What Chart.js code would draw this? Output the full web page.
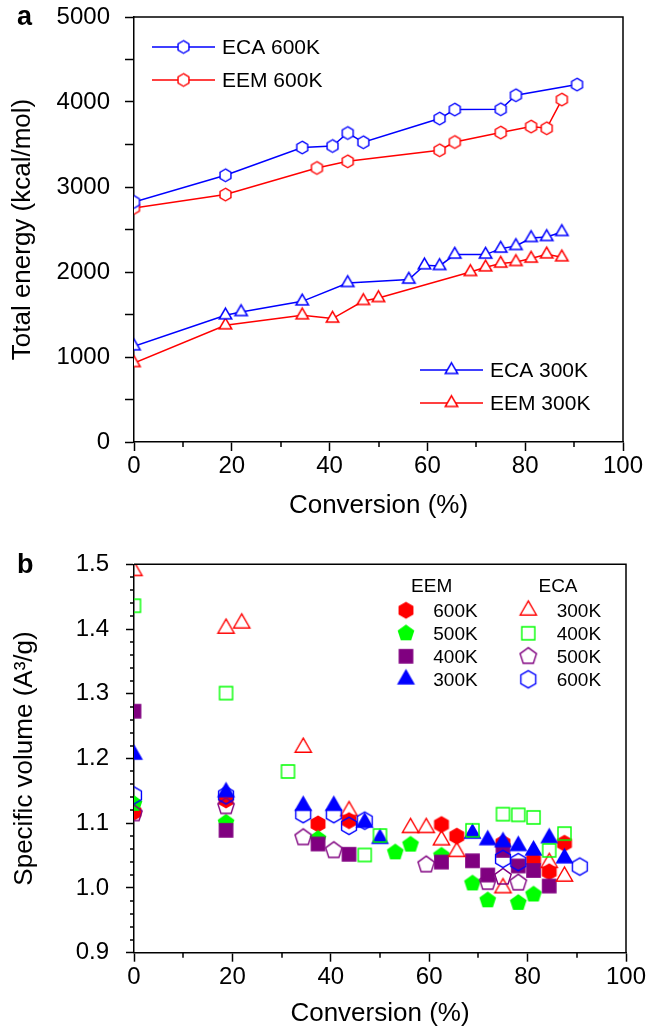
<!DOCTYPE html>
<html>
<head>
<meta charset="utf-8">
<script src="https://cdn.jsdelivr.net/npm/chart.js@4.4.0/dist/chart.umd.min.js"></script>
<style>
  html, body { margin: 0; padding: 0; background: #fff; width: 649px; height: 1027px; overflow: hidden; }
  #wrapA { position: absolute; left: 0; top: 0; width: 649px; height: 520px; }
  #wrapB { position: absolute; left: 0; top: 510px; width: 649px; height: 517px; }
</style>
</head>
<body>
<div id="wrapA"><canvas id="chartA" width="649" height="520"></canvas></div>
<div id="wrapB"><canvas id="chartB" width="649" height="517"></canvas></div>
<script>
// ---------- Panel a: total energy (kcal/mol) vs conversion (%) ----------
const eca600Conv   = [0, 18.7, 34.4, 40.6, 43.7, 46.9, 62.5, 65.6, 75.0, 78.1, 90.6];
const eca600Energy = [2824, 3138, 3464, 3482, 3635, 3526, 3805, 3911, 3914, 4079, 4205];
const eem600Conv   = [0, 18.7, 37.4, 43.7, 62.5, 65.6, 75.0, 81.2, 84.4, 87.5];
const eem600Energy = [2753, 2911, 3224, 3302, 3432, 3529, 3640, 3711, 3691, 4028];
const eca300Conv   = [0, 18.7, 21.9, 34.4, 43.7, 56.2, 59.4, 62.5, 65.6, 71.9, 75.0, 78.1, 81.2, 84.4, 87.5];
const eca300Energy = [1126, 1491, 1529, 1655, 1871, 1911, 2079, 2071, 2205, 2205, 2275, 2306, 2400, 2412, 2471];
const eem300Conv   = [0, 18.7, 34.4, 40.6, 46.9, 50.0, 68.8, 71.9, 75.0, 78.1, 81.2, 84.4, 87.5];
const eem300Energy = [929, 1373, 1491, 1452, 1659, 1694, 2000, 2055, 2099, 2118, 2158, 2208, 2173];

// ---------- Panel b: specific volume (A^3/g) vs conversion (%) ----------
const eemVol600Conv = [0, 18.7, 37.4, 43.7, 62.5, 65.6, 75.0, 81.2, 84.4, 87.5];
const eemVol600     = [1.117, 1.136, 1.099, 1.104, 1.098, 1.080, 1.069, 1.043, 1.025, 1.069];
const eemVol500Conv = [0, 18.7, 37.4, 53.1, 56.2, 62.5, 68.8, 71.9, 78.1, 81.2];
const eemVol500     = [1.130, 1.101, 1.076, 1.055, 1.067, 1.050, 1.007, 0.981, 0.977, 0.990];
const eemVol400Conv = [0, 18.7, 37.4, 43.7, 62.5, 68.8, 71.9, 75.0, 78.1, 81.2, 84.4];
const eemVol400     = [1.273, 1.089, 1.068, 1.052, 1.040, 1.042, 1.020, 1.058, 1.034, 1.027, 1.003];
const eemVol300Conv = [0, 18.7, 34.4, 40.6, 46.9, 50.0, 68.8, 71.9, 75.0, 78.1, 81.2, 84.4, 87.5];
const eemVol300     = [1.206, 1.148, 1.127, 1.127, 1.101, 1.076, 1.084, 1.074, 1.071, 1.065, 1.058, 1.077, 1.046];
const ecaVol300Conv = [0, 18.7, 21.9, 34.4, 43.7, 56.2, 59.4, 62.5, 65.6, 75.0, 84.4, 87.5];
const ecaVol300     = [1.490, 1.401, 1.409, 1.217, 1.119, 1.093, 1.093, 1.074, 1.056, 1.000, 1.039, 1.018];
const ecaVol400Conv = [0, 18.7, 31.3, 46.9, 50.0, 68.8, 75.0, 78.1, 81.2, 84.4, 87.5];
const ecaVol400     = [1.436, 1.301, 1.180, 1.051, 1.081, 1.089, 1.114, 1.113, 1.109, 1.058, 1.084];
const ecaVol500Conv = [0, 18.7, 34.4, 40.6, 59.4, 71.9, 75.0, 78.1];
const ecaVol500     = [1.115, 1.126, 1.078, 1.058, 1.036, 1.009, 1.017, 1.008];
const ecaVol600Conv = [0, 18.7, 34.4, 40.6, 43.7, 46.9, 75.0, 78.1, 90.6];
const ecaVol600     = [1.143, 1.143, 1.114, 1.114, 1.096, 1.104, 1.045, 1.040, 1.033];

// Axis ranges
const convRange = [0, 100];
const energyRange = [0, 5000];
const volumeRange = [0.9, 1.5];

const BLUE = '#0000ff', RED = '#ff0000', GREEN = '#00ff00', PURPLE = '#800080';
const FONT = "'Liberation Sans', Arial, Helvetica, sans-serif";

// Regular polygon marker drawn to a small canvas (used as a Chart.js pointStyle)
function polygonMarker(sides, R, fill, stroke, lw, startDeg) {
  const pad = Math.ceil(lw || 0) + 1;
  const size = Math.ceil(2 * R) + 2 * pad;
  const c = document.createElement('canvas');
  c.width = size; c.height = size;
  const g = c.getContext('2d');
  const cx = size / 2, cy = size / 2;
  const start = (startDeg === undefined ? -90 : startDeg) * Math.PI / 180;
  g.beginPath();
  for (let i = 0; i < sides; i++) {
    const t = start + i * 2 * Math.PI / sides;
    const px = cx + R * Math.cos(t), py = cy + R * Math.sin(t);
    if (i === 0) g.moveTo(px, py); else g.lineTo(px, py);
  }
  g.closePath();
  if (fill) { g.fillStyle = fill; g.fill(); }
  if (stroke) { g.strokeStyle = stroke; g.lineWidth = lw; g.lineJoin = 'miter'; g.stroke(); }
  return c;
}

// Panel a markers (open, white filled)
const mkA = {
  hexBlue: polygonMarker(6, 6.3, '#fff', BLUE, 1.4),
  hexRed:  polygonMarker(6, 6.3, '#fff', RED, 1.4),
  triBlue: polygonMarker(3, 7.2, '#fff', BLUE, 1.5),
  triRed:  polygonMarker(3, 7.2, '#fff', RED, 1.5)
};
// Panel b markers
const mkB = {
  eem600: polygonMarker(6, 8.6, RED, null, 0),
  eem500: polygonMarker(5, 8.8, GREEN, null, 0),
  eem400: polygonMarker(4, 10.4, PURPLE, null, 0, -45),
  eem300: polygonMarker(3, 10.4, BLUE, null, 0),
  eca300: polygonMarker(3, 9.4, null, RED, 1.4),
  eca400: polygonMarker(4, 9.2, null, GREEN, 1.4, -45),
  eca500: polygonMarker(5, 8.6, null, PURPLE, 1.4),
  eca600: polygonMarker(6, 8.6, null, BLUE, 1.4)
};

const pts = (xs, ys) => xs.map((x, i) => ({ x, y: ys[i] }));
const isMult = (v, step) => { const q = v / step; return Math.abs(q - Math.round(q)) < 1e-6; };

// Top/right frame, minor ticks and panel letter
const framePlugin = {
  id: 'frame',
  afterDraw(chart, args, o) {
    const { ctx, chartArea: a } = chart;
    ctx.save();
    ctx.strokeStyle = '#000';
    ctx.lineWidth = 1.5;
    ctx.beginPath();
    ctx.moveTo(a.left, a.top); ctx.lineTo(a.right, a.top); ctx.lineTo(a.right, a.bottom);
    ctx.stroke();
    ctx.beginPath();
    const xs = chart.scales.x, ys = chart.scales.y;
    xs.ticks.forEach(t => {
      if (!isMult(t.value, o.xMajor)) {
        const px = Math.round(xs.getPixelForValue(t.value));
        ctx.moveTo(px, a.bottom); ctx.lineTo(px, a.bottom + o.xMinorLen);
      }
    });
    ys.ticks.forEach(t => {
      if (!isMult(t.value, o.yMajor)) {
        const py = Math.round(ys.getPixelForValue(t.value));
        ctx.moveTo(a.left - o.yMinorLen, py); ctx.lineTo(a.left, py);
      }
    });
    ctx.stroke();
    ctx.fillStyle = '#000';
    ctx.font = 'bold 27px ' + FONT;
    ctx.textAlign = 'left';
    ctx.textBaseline = 'alphabetic';
    ctx.fillText(o.letter, 17, o.letterY);
    ctx.restore();
  }
};

function drawMarker(ctx, img, x, y) {
  ctx.drawImage(img, x - img.width / 2, y - img.height / 2);
}

// Panel a legend: line + marker + label, in two groups
const legendAPlugin = {
  id: 'legendA',
  afterDraw(chart, args, o) {
    const { ctx, chartArea: a } = chart;
    ctx.save();
    ctx.font = '21px ' + FONT;
    ctx.textBaseline = 'middle';
    ctx.textAlign = 'left';
    o.items.forEach(it => {
      const x0 = a.left + it.dx, y = a.top + it.dy, len = 63;
      ctx.strokeStyle = it.color;
      ctx.lineWidth = 1.5;
      ctx.beginPath(); ctx.moveTo(x0, y); ctx.lineTo(x0 + len, y); ctx.stroke();
      drawMarker(ctx, it.img, x0 + len / 2, y);
      ctx.fillStyle = '#000';
      ctx.fillText(it.text, x0 + len + 7, y + 1);
    });
    ctx.restore();
  }
};

// Panel b legend: two columns with headers
const legendBPlugin = {
  id: 'legendB',
  afterDraw(chart, args, o) {
    const { ctx, chartArea: a } = chart;
    ctx.save();
    ctx.font = '19px ' + FONT;
    ctx.fillStyle = '#000';
    ctx.textBaseline = 'middle';
    o.columns.forEach(col => {
      ctx.textAlign = 'center';
      ctx.fillText(col.header, a.left + col.headerX, a.top + 22.5);
      ctx.textAlign = 'left';
      col.rows.forEach((r, i) => {
        const y = a.top + 46 + i * 23;
        drawMarker(ctx, r.img, a.left + col.markerX, y);
        ctx.fillText(r.text, a.left + col.textX, y + 1);
      });
    });
    ctx.restore();
  }
};

const tickFont = { family: FONT, size: 24 };
const titleFont = { family: FONT, size: 26, lineHeight: 1 };

function convAxis(height, titlePad) {
  return {
    type: 'linear', position: 'bottom', min: convRange[0], max: convRange[1],
    afterFit: s => { s.height = height; s.paddingLeft = 0; s.paddingRight = 0; },
    ticks: {
      stepSize: 10, autoSkip: false, maxRotation: 0, color: '#000', font: tickFont, padding: 1,
      callback: v => (isMult(v, 20) ? String(v) : '')
    },
    grid: {
      drawOnChartArea: false, drawTicks: true, tickLength: 9, tickWidth: 1.5,
      tickColor: c => (isMult(c.tick.value, 20) ? '#000' : 'rgba(0,0,0,0)')
    },
    border: { display: true, color: '#000', width: 1.5 },
    title: { display: true, text: 'Conversion (%)', color: '#000', font: titleFont, padding: { top: titlePad, bottom: titlePad } }
  };
}

const lineSet = (xs, ys, color, img) => ({
  data: pts(xs, ys), showLine: true, borderColor: color, borderWidth: 1.5,
  pointStyle: img, pointRadius: 6.5, clip: 0
});

new Chart(document.getElementById('chartA'), {
  type: 'scatter',
  data: {
    datasets: [
      lineSet(eca600Conv, eca600Energy, BLUE, mkA.hexBlue),
      lineSet(eca300Conv, eca300Energy, BLUE, mkA.triBlue),
      lineSet(eem600Conv, eem600Energy, RED, mkA.hexRed),
      lineSet(eem300Conv, eem300Energy, RED, mkA.triRed)
    ]
  },
  options: {
    responsive: false, animation: false, events: [],
    layout: { padding: { top: 17, right: 26, left: 0, bottom: 0 } },
    plugins: {
      legend: { display: false }, tooltip: { enabled: false },
      frame: { xMajor: 20, yMajor: 500, xMinorLen: 5, yMinorLen: 9, letter: 'a', letterY: 25 },
      legendA: {
        items: [
          { text: 'ECA 600K', color: BLUE, img: mkA.hexBlue, dx: 18, dy: 30 },
          { text: 'EEM 600K', color: RED, img: mkA.hexRed, dx: 18, dy: 63 },
          { text: 'ECA 300K', color: BLUE, img: mkA.triBlue, dx: 286, dy: 353 },
          { text: 'EEM 300K', color: RED, img: mkA.triRed, dx: 286, dy: 386 }
        ]
      }
    },
    scales: {
      x: convAxis(78, 1),
      y: {
        type: 'linear', min: energyRange[0], max: energyRange[1],
        afterFit: s => { s.width = 134; s.paddingTop = 0; s.paddingBottom = 0; },
        ticks: {
          stepSize: 500, autoSkip: false, color: '#000', font: tickFont, padding: 15,
          callback: v => (isMult(v, 1000) ? String(v) : '')
        },
        grid: { drawOnChartArea: false, drawTicks: true, tickLength: 9, tickWidth: 1.5, tickColor: '#000' },
        border: { display: true, color: '#000', width: 1.5 },
        title: { display: true, text: 'Total energy (kcal/mol)', color: '#000', font: titleFont, padding: { top: 10, bottom: 10 } }
      }
    }
  },
  plugins: [framePlugin, legendAPlugin]
});

const scatterSet = (xs, ys, img, order) => ({
  data: pts(xs, ys), showLine: false, pointStyle: img, pointRadius: 8.5, clip: 0, order
});

new Chart(document.getElementById('chartB'), {
  type: 'scatter',
  data: {
    datasets: [
      scatterSet(eemVol600Conv, eemVol600, mkB.eem600, 8),
      scatterSet(eemVol500Conv, eemVol500, mkB.eem500, 7),
      scatterSet(eemVol400Conv, eemVol400, mkB.eem400, 6),
      scatterSet(eemVol300Conv, eemVol300, mkB.eem300, 5),
      scatterSet(ecaVol300Conv, ecaVol300, mkB.eca300, 4),
      scatterSet(ecaVol400Conv, ecaVol400, mkB.eca400, 3),
      scatterSet(ecaVol500Conv, ecaVol500, mkB.eca500, 2),
      scatterSet(ecaVol600Conv, ecaVol600, mkB.eca600, 1)
    ]
  },
  options: {
    responsive: false, animation: false, events: [],
    layout: { padding: { top: 54.3, right: 23, left: 0, bottom: 0 } },
    plugins: {
      legend: { display: false }, tooltip: { enabled: false },
      frame: { xMajor: 20, yMajor: 0.1, xMinorLen: 5, yMinorLen: 4, letter: 'b', letterY: 63 },
      legendB: {
        columns: [
          { header: 'EEM', headerX: 297.7, markerX: 272, textX: 299.3,
            rows: [ { img: mkB.eem600, text: '600K' }, { img: mkB.eem500, text: '500K' },
                    { img: mkB.eem400, text: '400K' }, { img: mkB.eem300, text: '300K' } ] },
          { header: 'ECA', headerX: 424, markerX: 394.3, textX: 422.7,
            rows: [ { img: mkB.eca300, text: '300K' }, { img: mkB.eca400, text: '400K' },
                    { img: mkB.eca500, text: '500K' }, { img: mkB.eca600, text: '600K' } ] }
        ]
      }
    },
    scales: {
      x: convAxis(74.3, 0),
      y: {
        type: 'linear', min: volumeRange[0], max: volumeRange[1],
        afterFit: s => { s.width = 134; s.paddingTop = 0; s.paddingBottom = 0; },
        ticks: {
          stepSize: 0.02, autoSkip: false, color: '#000', font: tickFont, padding: 17,
          callback: v => (isMult(v, 0.1) ? v.toFixed(1) : '')
        },
        grid: {
          drawOnChartArea: false, drawTicks: true, tickLength: 8, tickWidth: 1.5,
          tickColor: c => (isMult(c.tick.value, 0.1) ? '#000' : 'rgba(0,0,0,0)')
        },
        border: { display: true, color: '#000', width: 1.5 },
        title: { display: true, text: 'Specific volume (A\u00B3/g)', color: '#000', font: titleFont, padding: { top: 12, bottom: 12 } }
      }
    }
  },
  plugins: [framePlugin, legendBPlugin]
});
</script>
</body>
</html>
